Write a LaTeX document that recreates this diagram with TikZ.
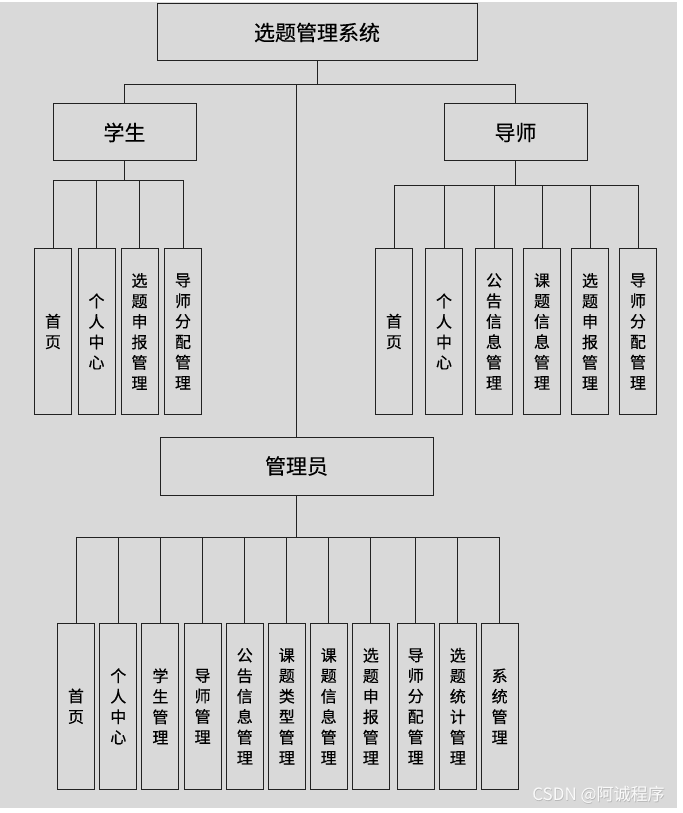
\documentclass[tikz,border=0pt]{standalone}
\usepackage{fontspec}
\setmainfont{Noto Sans CJK SC}[FakeBold=0.35]
\newfontfamily\wmfont{Noto Sans CJK SC}
\definecolor{bg}{HTML}{D9D9D9}
\definecolor{ln}{HTML}{222222}
\begin{document}
\begin{tikzpicture}[x=1pt,y=-1pt,
  box/.style={draw=ln,line width=1pt,fill=bg,inner sep=0pt,minimum width=#1,minimum height=57pt,font=\fontsize{21}{25}\selectfont},
  leaf/.style={draw=ln,line width=1pt,fill=bg,inner sep=0pt,minimum width=37pt,minimum height=166pt,align=center,font=\fontsize{16}{20.5}\selectfont},
  conn/.style={draw=ln,line width=0.85pt}]
\useasboundingbox (0,0) rectangle (682,813);
\fill[white] (0,0) rectangle (682,813);
\fill[bg] (0,2) rectangle (677,808);
% main boxes
\node[box=320pt] (top) at (317,32.5) {选题管理系统};
\node[box=143pt] (stu) at (124.5,132.5) {学生};
\node[box=143pt] (tea) at (515.5,132.5) {导师};
\node[box=273pt,minimum height=58pt] (adm) at (296.5,466) {管理员};
% bus coordinates
\coordinate (b0) at (0,84.5);
\coordinate (bs) at (0,180.5);
\coordinate (bt) at (0,185.5);
\coordinate (ba) at (0,537.5);
% student leaves
\node[leaf] (s1) at (53,331.5) {首\\页};
\node[leaf] (s2) at (96.5,331.5) {个\\人\\中\\心};
\node[leaf] (s3) at (139.5,331.5) {选\\题\\申\\报\\管\\理};
\node[leaf] (s4) at (183,331.5) {导\\师\\分\\配\\管\\理};
% teacher leaves
\node[leaf] (t1) at (394,331.5) {首\\页};
\node[leaf] (t2) at (444,331.5) {个\\人\\中\\心};
\node[leaf] (t3) at (494,331.5) {公\\告\\信\\息\\管\\理};
\node[leaf] (t4) at (542,331.5) {课\\题\\信\\息\\管\\理};
\node[leaf] (t5) at (590,331.5) {选\\题\\申\\报\\管\\理};
\node[leaf] (t6) at (638,331.5) {导\\师\\分\\配\\管\\理};
% admin leaves
\node[leaf] (a1) at (76,706.3) {首\\页};
\node[leaf] (a2) at (118.3,706.3) {个\\人\\中\\心};
\node[leaf] (a3) at (160.4,706.3) {学\\生\\管\\理};
\node[leaf] (a4) at (202.6,706.3) {导\\师\\管\\理};
\node[leaf] (a5) at (244.8,706.3) {公\\告\\信\\息\\管\\理};
\node[leaf] (a6) at (286.8,706.3) {课\\题\\类\\型\\管\\理};
\node[leaf] (a7) at (328.7,706.3) {课\\题\\信\\息\\管\\理};
\node[leaf] (a8) at (370.8,706.3) {选\\题\\申\\报\\管\\理};
\node[leaf] (a9) at (415.7,706.3) {导\\师\\分\\配\\管\\理};
\node[leaf] (a10) at (457.8,706.3) {选\\题\\统\\计\\管\\理};
\node[leaf] (a11) at (499.6,706.3) {系\\统\\管\\理};
% top level connectors
\draw[conn] (top.south) -- (top.south |- b0);
\draw[conn] (stu.north) -- (stu.north |- b0) -- (tea.north |- b0) -- (tea.north);
\draw[conn] (adm.north) -- (adm.north |- b0);
% student connectors
\draw[conn] (stu.south) -- (stu.south |- bs);
\draw[conn] (s1.north) -- (s1.north |- bs) -- (s4.north |- bs) -- (s4.north);
\foreach \n in {s2,s3} \draw[conn] (\n.north) -- (\n.north |- bs);
% teacher connectors
\draw[conn] (tea.south) -- (tea.south |- bt);
\draw[conn] (t1.north) -- (t1.north |- bt) -- (t6.north |- bt) -- (t6.north);
\foreach \n in {t2,t3,t4,t5} \draw[conn] (\n.north) -- (\n.north |- bt);
% admin connectors
\draw[conn] (adm.south) -- (adm.south |- ba);
\draw[conn] (a1.north) -- (a1.north |- ba) -- (a11.north |- ba) -- (a11.north);
\foreach \n in {a2,a3,a4,a5,a6,a7,a8,a9,a10} \draw[conn] (\n.north) -- (\n.north |- ba);
% watermark
\node[text=gray!55,font=\wmfont\fontsize{17}{20}\selectfont,inner sep=0pt] (wm0) at (599.1,795.6) {CSDN @阿诚程序};
\node[text=white!96!gray,font=\wmfont\fontsize{17}{20}\selectfont,inner sep=0pt] (wm) at (598.5,795) {CSDN @阿诚程序};
\end{tikzpicture}
\end{document}
